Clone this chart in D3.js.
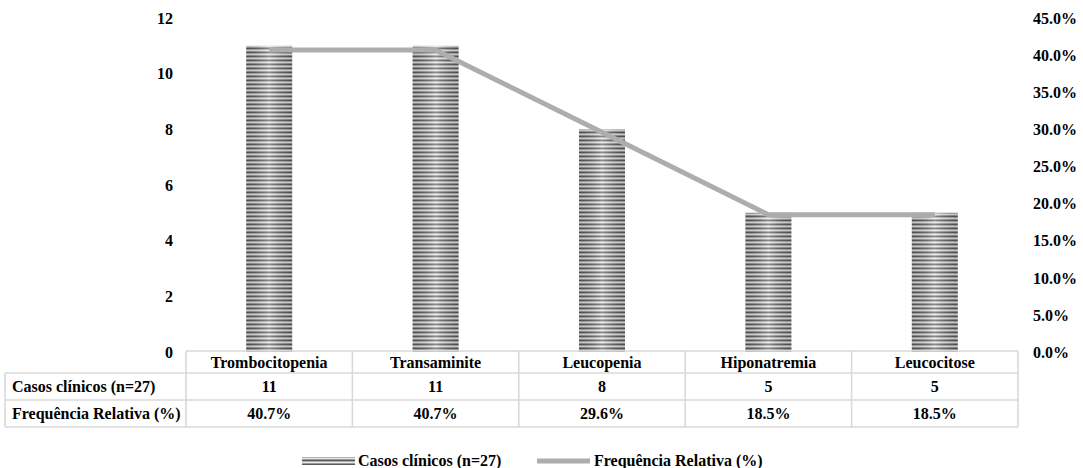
<!DOCTYPE html>
<html><head><meta charset="utf-8">
<script src="https://cdn.jsdelivr.net/npm/d3@7"></script>
<style>body{margin:0;background:#fff}svg{display:block}svg text{font-family:"Liberation Serif","Times New Roman",serif !important;font-weight:bold;font-size:16px !important;fill:#000}</style>
</head><body><svg id="c" width="1083" height="468"></svg>
<script>
const categories=["Trombocitopenia","Transaminite","Leucopenia","Hiponatremia","Leucocitose"];
const casos=[11,11,8,5,5];
const freq=[40.7,40.7,29.6,18.5,18.5];
const leftTicks=[0,2,4,6,8,10,12];
const rightTicks=[0,5,10,15,20,25,30,35,40,45];
const seriesNames=["Casos clínicos (n=27)","Frequência Relativa (%)"];

const svg=d3.select("#c");
const L=186,R=1018,T=18,B=352;
const x=d3.scaleBand().domain(categories).range([L,R]);
const y=d3.scaleLinear().domain([0,12]).range([B,T]);
const y2=d3.scaleLinear().domain([0,45]).range([B,T]);

const defs=svg.append("defs");
const pat=defs.append("pattern").attr("id","stripe").attr("patternUnits","userSpaceOnUse").attr("width",8).attr("height",4);
[["#5a5a5a",0],["#b0b0b0",1],["#e8e8e8",2],["#9a9a9a",3]].forEach(([c,i])=>pat.append("rect").attr("x",0).attr("y",i).attr("width",8).attr("height",1).attr("fill",c));
const g=defs.append("linearGradient").attr("id","shade").attr("x1","0").attr("x2","1").attr("y1","0").attr("y2","0");
g.append("stop").attr("offset","0").attr("stop-color","#000").attr("stop-opacity",0.15);
g.append("stop").attr("offset","0.5").attr("stop-color","#fff").attr("stop-opacity",0.3);
g.append("stop").attr("offset","1").attr("stop-color","#000").attr("stop-opacity",0.15);

const bw=46;
const bars=svg.append("g");
categories.forEach((c,i)=>{
  const bx=x(c)+x.bandwidth()/2-bw/2;
  bars.append("rect").attr("x",bx).attr("y",y(casos[i])).attr("width",bw).attr("height",B-y(casos[i])).attr("fill","url(#stripe)");
  bars.append("rect").attr("x",bx).attr("y",y(casos[i])).attr("width",bw).attr("height",B-y(casos[i])).attr("fill","url(#shade)");
});

const line=d3.line().x((d,i)=>x(categories[i])+x.bandwidth()/2).y(d=>y2(d));
svg.append("path").datum(freq).attr("d",line).attr("fill","none").attr("stroke","#adadad").attr("stroke-width",5);

// left axis
const la=svg.append("g").attr("transform",`translate(173,0)`).call(d3.axisLeft(y).tickValues(leftTicks).tickSize(0).tickPadding(0));
la.select(".domain").remove();
la.selectAll("text").attr("dy","0.33em");
// right axis
const ra=svg.append("g").attr("transform",`translate(1033,0)`).call(d3.axisRight(y2).tickValues(rightTicks).tickSize(0).tickPadding(0).tickFormat(d=>d.toFixed(1)+"%"));
ra.select(".domain").remove();
ra.selectAll("text").attr("dy","0.33em");

// table
const tb=svg.append("g");
const rows=[351,373,400,427];
const lx=5;
const bc="#d9d9d9";
const sw=1.6;
tb.append("line").attr("x1",L).attr("x2",R).attr("y1",rows[0]).attr("y2",rows[0]).attr("stroke",bc).attr("stroke-width",sw);
for(let r=1;r<4;r++) tb.append("line").attr("x1",lx).attr("x2",R).attr("y1",rows[r]).attr("y2",rows[r]).attr("stroke",bc).attr("stroke-width",sw);
tb.append("line").attr("x1",lx).attr("x2",lx).attr("y1",rows[1]).attr("y2",rows[3]).attr("stroke",bc).attr("stroke-width",sw);
[...categories.map(c=>x(c)),R].forEach(v=>tb.append("line").attr("x1",v).attr("x2",v).attr("y1",rows[0]).attr("y2",rows[3]).attr("stroke",bc).attr("stroke-width",sw));
const mid=(a,b)=>(a+b)/2+5.5;
categories.forEach((c,i)=>{
  const cx=x(c)+x.bandwidth()/2;
  tb.append("text").attr("x",cx).attr("y",mid(rows[0],rows[1])).attr("text-anchor","middle").text(c);
  tb.append("text").attr("x",cx).attr("y",mid(rows[1],rows[2])).attr("text-anchor","middle").text(casos[i]);
  tb.append("text").attr("x",cx).attr("y",mid(rows[2],rows[3])).attr("text-anchor","middle").text(freq[i].toFixed(1)+"%");
});
tb.append("text").attr("x",12).attr("y",mid(rows[1],rows[2])).text(seriesNames[0]);
tb.append("text").attr("x",12).attr("y",mid(rows[2],rows[3])).text(seriesNames[1]);

// legend
const lg=svg.append("g");
lg.append("rect").attr("x",302).attr("y",457).attr("width",53).attr("height",8).attr("fill","url(#stripe)");
lg.append("text").attr("x",358).attr("y",466).text(seriesNames[0]);
lg.append("line").attr("x1",537).attr("x2",590).attr("y1",461).attr("y2",461).attr("stroke","#adadad").attr("stroke-width",5);
lg.append("text").attr("x",594).attr("y",466).text(seriesNames[1]);
</script></body></html>
